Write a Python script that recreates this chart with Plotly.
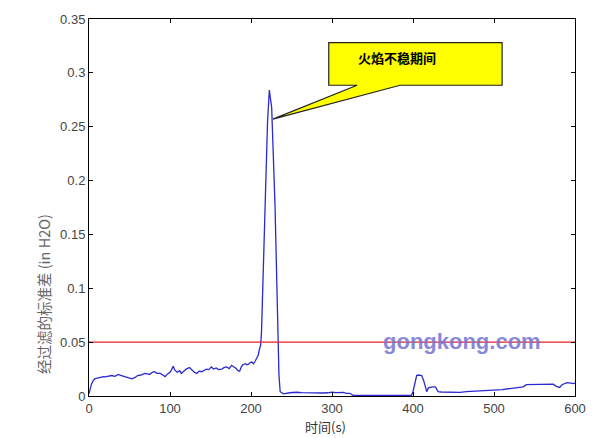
import plotly.graph_objects as go

# time (s)
time_s = [0, 1, 3, 5, 7, 10, 12, 15, 18, 20, 24, 28, 32, 36, 40, 44, 48, 53, 57, 60, 64,
          69, 72, 75, 78, 81, 84, 88, 91, 94, 97, 100, 102, 104, 106, 109, 112, 114, 117,
          120, 124, 127, 130, 133, 136, 139, 142, 145, 148, 151, 154, 157, 160, 164, 167,
          170, 173, 176, 179, 181, 184, 186, 188, 190, 193, 195, 197, 199, 201, 203, 205,
          207, 209, 210, 212, 213, 215, 218, 220.4, 222.6, 225.5, 229.6, 231.7, 233, 234.5,
          236, 240, 248, 256, 263, 270, 280, 289, 295, 300, 305, 310, 314, 318, 322, 326,
          340, 360, 380, 398, 400, 402, 404.5, 407, 410.7, 413, 415, 417, 419, 421, 424,
          427.6, 429, 431, 435, 440, 450, 458, 466, 474, 480, 490, 499, 510, 520, 530, 536,
          540, 550, 560, 567, 573, 577, 581, 584, 586, 590, 595, 598, 600]
# filtered standard deviation (in H2O)
std_dev = [0.002, 0.0055, 0.011, 0.014, 0.016, 0.0165, 0.017, 0.0172, 0.018, 0.0177, 0.0185,
           0.019, 0.0182, 0.020, 0.019, 0.018, 0.0175, 0.016, 0.0172, 0.019, 0.0195,
           0.021, 0.0205, 0.020, 0.022, 0.0226, 0.021, 0.021, 0.0195, 0.018, 0.0205, 0.022,
           0.0245, 0.0276, 0.024, 0.022, 0.0235, 0.021, 0.023, 0.025, 0.0265, 0.024, 0.022,
           0.021, 0.023, 0.0225, 0.024, 0.025, 0.0245, 0.027, 0.025, 0.026, 0.0245, 0.025,
           0.0265, 0.027, 0.0255, 0.0285, 0.027, 0.026, 0.0235, 0.023, 0.027, 0.029, 0.030,
           0.029, 0.0295, 0.031, 0.0315, 0.030, 0.032, 0.0346, 0.038, 0.042, 0.048, 0.06,
           0.116, 0.208, 0.254, 0.284, 0.268, 0.178, 0.116, 0.051, 0.02, 0.004, 0.002,
           0.003, 0.0035, 0.0032, 0.003, 0.0033, 0.0028, 0.003, 0.0035, 0.0032, 0.003,
           0.0034, 0.0024, 0.0025, 0.0006, 0.0005, 0.0005, 0.0005, 0.0005, 0.004, 0.012,
           0.019, 0.0195, 0.019, 0.0147, 0.0085, 0.004, 0.0075, 0.008, 0.0085, 0.0085,
           0.006, 0.004, 0.0037, 0.0035, 0.003, 0.0033, 0.004, 0.0042, 0.0045, 0.005,
           0.0055, 0.006, 0.007, 0.0075, 0.0085, 0.0105, 0.0105, 0.011, 0.0108, 0.011,
           0.009, 0.008, 0.0105, 0.011, 0.0124, 0.012, 0.0115, 0.012]

threshold = 0.05
x_ticks = [0, 100, 200, 300, 400, 500, 600]
y_ticks = [0, 0.05, 0.1, 0.15, 0.2, 0.25, 0.3, 0.35]
y_tick_text = ["0", "0.05", "0.1", "0.15", "0.2", "0.25", "0.3", "0.35"]

callout_text = "火焰不稳期间"
x_title = "时间(s)"
y_title = "经过滤的标准差 (in H2O)"
watermark = "gongkong.com"

fig = go.Figure()
fig.add_trace(go.Scatter(x=time_s, y=std_dev, mode="lines",
                         line=dict(color="#2a2ad0", width=1.3), showlegend=False))
fig.add_trace(go.Scatter(x=[x_ticks[0], x_ticks[-1]], y=[threshold, threshold], mode="lines",
                         line=dict(color="#e8202a", width=1.3), showlegend=False))

# callout bubble
fig.add_shape(type="path",
              path="M 296 0.328 L 510 0.328 L 510 0.2885 L 384 0.2885 L 227 0.257 L 331 0.2885 L 296 0.2885 Z",
              xref="x", yref="y", fillcolor="#ffff00", line=dict(color="#222222", width=1.2))

fig.add_annotation(x=380, y=0.3146, xref="x", yref="y", text="<b>" + callout_text + "</b>",
                   showarrow=False, font=dict(family="Noto Sans CJK SC", size=13, color="black"))
fig.add_annotation(x=461, y=0.051, xref="x", yref="y", text="<b>" + watermark + "</b>",
                   showarrow=False,
                   font=dict(family="Liberation Sans", size=22, color="rgba(115,115,210,0.85)"))
fig.add_annotation(x=(325 - 89) / 486, y=-(427 - 396) / 381, xref="paper", yref="paper",
                   text=x_title, showarrow=False, yanchor="middle",
                   font=dict(family="Noto Sans CJK SC", size=13, color="#333333"))
fig.add_annotation(x=-(89 - 43) / 486, y=(396 - 293) / 381, xref="paper", yref="paper",
                   text=y_title, showarrow=False, textangle=-90, xanchor="center",
                   yanchor="middle",
                   font=dict(family="Noto Sans CJK SC", size=14.5, color="#666666"))

axis_common = dict(showgrid=False, zeroline=False, showline=True, linecolor="black",
                   linewidth=1, mirror="ticks", ticks="inside", ticklen=4, tickcolor="black",
                   tickfont=dict(family="Liberation Sans", size=13, color="#444444"))
fig.update_xaxes(range=[0, 600], tickvals=x_ticks, **axis_common)
fig.update_yaxes(range=[0, 0.35], tickvals=y_ticks, ticktext=y_tick_text, **axis_common)

fig.update_layout(width=600, height=438, margin=dict(l=89, r=25, t=15, b=42),
                  plot_bgcolor="white", paper_bgcolor="white")
fig.write_html("out.html", config={"displayModeBar": False},
               post_script="document.body.style.margin='0';document.body.style.padding='0';")
